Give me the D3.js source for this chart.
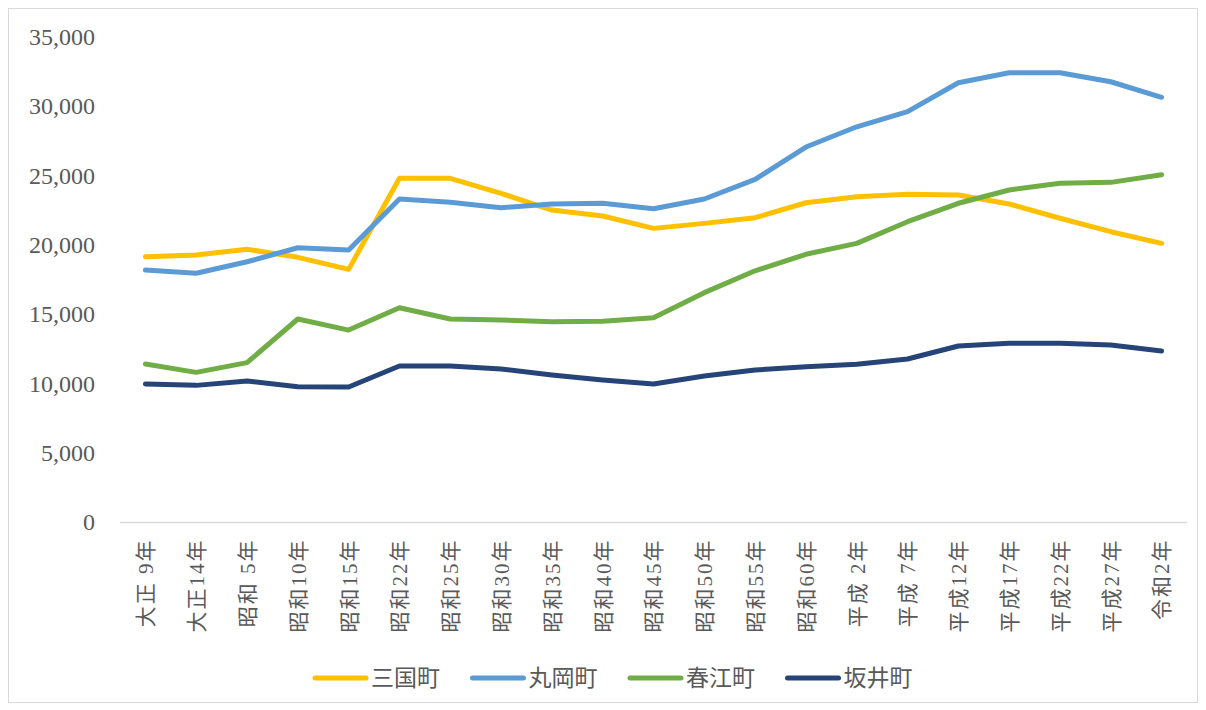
<!DOCTYPE html>
<html>
<head>
<meta charset="utf-8">
<script src="https://cdn.jsdelivr.net/npm/d3@7"></script>
<style>
  body { margin: 0; background: #fff; }
  text { font-family: "Liberation Serif", "Noto Sans CJK JP", serif; fill: #595959; }
</style>
</head>
<body>
<div class="c_chart"></div>
<script>
/* data */
const years = ["大正 9年","大正14年","昭和 5年","昭和10年","昭和15年","昭和22年","昭和25年",
  "昭和30年","昭和35年","昭和40年","昭和45年","昭和50年","昭和55年","昭和60年",
  "平成 2年","平成 7年","平成12年","平成17年","平成22年","平成27年","令和2年"];

const mikuni = [19140,19270,19680,19100,18230,24800,24800,23720,22510,22080,21190,
  21550,21960,23040,23470,23650,23600,22950,21920,20950,20110];
const maruoka = [18180,17950,18780,19790,19630,23310,23070,22680,22950,23000,22610,
  23310,24730,27060,28520,29610,31700,32420,32420,31770,30650];
const harue = [11400,10800,11500,14650,13850,15460,14650,14580,14450,14480,14740,
  16550,18130,19320,20110,21670,23000,23960,24440,24510,25060];
const sakai = [9960,9860,10180,9760,9740,11260,11260,11040,10610,10250,9960,
  10540,10970,11210,11380,11760,12700,12900,12900,12770,12340];

const names = ["三国町","丸岡町","春江町","坂井町"];
const colors = ["#FFC000","#5B9BD5","#70AD47","#264478"];
const yTicks = [0,5000,10000,15000,20000,25000,30000,35000];

/* svg */
const width = 1206, height = 710;
let svg = d3.select(".c_chart").append("svg")
  .attr("width", width)
  .attr("height", height);

svg.append("rect")
  .attr("x", 8.5).attr("y", 8.5)
  .attr("width", 1189).attr("height", 694)
  .attr("fill", "#fff")
  .attr("stroke", "#d9d9d9");

const margin = {top: 37, right: 19, bottom: 188, left: 120};

let x = d3.scalePoint()
  .domain(years)
  .range([margin.left, width - margin.right])
  .padding(0.5);

let y = d3.scaleLinear()
  .domain([0, 35000])
  .range([height - margin.bottom, margin.top]);

/* y axis, labels only */
let fmt = d3.format(",");
let gy = svg.append("g")
  .attr("transform", `translate(${margin.left - 25},0)`)
  .call(d3.axisLeft(y).tickValues(yTicks).tickSize(0).tickPadding(0).tickFormat(fmt));
gy.select(".domain").remove();
gy.selectAll("text")
  .style("font-size", "24px")
  .attr("fill", "#595959");

/* x axis */
let gx = svg.append("g")
  .attr("transform", `translate(0,${y(0) + 0.5})`)
  .call(d3.axisBottom(x).tickSize(0));
gx.select(".domain")
  .attr("d", `M${margin.left},0H${width - margin.right}`)
  .attr("stroke", "#d9d9d9")
  .attr("stroke-width", 1.5);
gx.selectAll("text")
  .attr("transform", "rotate(-90)")
  .attr("x", -16)
  .attr("y", 0)
  .attr("dy", "0.35em")
  .attr("text-anchor", "end")
  .style("font-size", "21px")
  .style("letter-spacing", "2px")
  .attr("fill", "#595959");

/* lines */
const series = [mikuni, maruoka, harue, sakai];
let line = d3.line()
  .x((d, i) => x(years[i]))
  .y(d => y(d));

svg.append("g")
  .selectAll("path")
  .data(series)
  .enter()
  .append("path")
  .attr("d", line)
  .attr("fill", "none")
  .attr("stroke", (d, i) => colors[i])
  .attr("stroke-width", 5)
  .attr("stroke-linejoin", "round")
  .attr("stroke-linecap", "round");

/* legend */
let legend = svg.append("g")
  .attr("transform", "translate(313,678)");
let item = legend.selectAll("g")
  .data(names)
  .enter()
  .append("g")
  .attr("transform", (d, i) => `translate(${i * 157.5},0)`);
item.append("line")
  .attr("x1", 2).attr("x2", 53)
  .attr("stroke", (d, i) => colors[i])
  .attr("stroke-width", 5)
  .attr("stroke-linecap", "round");
item.append("text")
  .attr("x", 58)
  .attr("dy", "0.35em")
  .style("font-size", "23px")
  .text(d => d);
</script>
</body>
</html>
